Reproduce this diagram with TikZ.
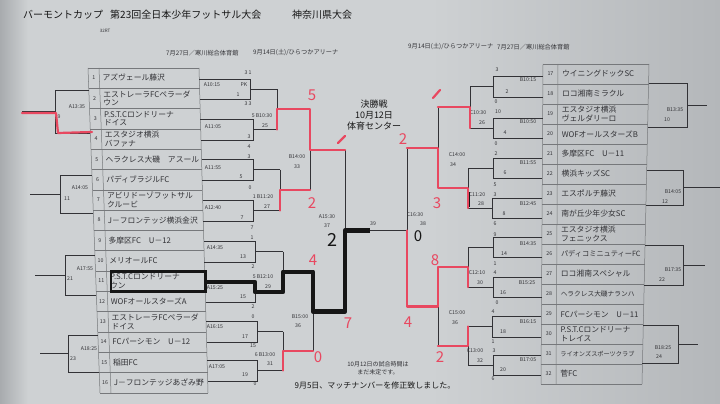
\documentclass[tikz,border=0pt]{standalone}
\usepackage{fontspec}
\newfontfamily\jp{Noto Sans CJK JP}
\definecolor{paperL}{RGB}{168,171,174}
\definecolor{paperM}{RGB}{206,209,211}
\definecolor{paperR}{RGB}{180,183,186}
\definecolor{ink}{RGB}{50,50,54}
\definecolor{grid}{RGB}{118,120,123}
\definecolor{marker}{RGB}{232,72,96}
\definecolor{blk}{RGB}{22,22,22}
\tikzset{
  team/.style={anchor=west,font=\jp\fontsize{7.8}{8.8}\selectfont,align=left,inner sep=0pt,text=ink},
  tnum/.style={font=\jp\fontsize{5.3}{6}\selectfont,inner sep=0pt,text=ink},
  lab/.style={font=\jp\fontsize{5.2}{6}\selectfont,inner sep=0pt,text=ink},
  ttl/.style={anchor=west,font=\jp\fontsize{10}{12}\selectfont,inner sep=0pt,text=blk},
  sub/.style={anchor=west,font=\jp\fontsize{6.2}{7}\selectfont,inner sep=0pt,text=ink},
  redno/.style={font=\jp\fontsize{15}{15}\selectfont,text=marker,inner sep=0pt},
  bline/.style={draw=ink,line width=0.9pt},
  tline/.style={draw=ink,line width=0.6pt},
  gline/.style={draw=grid,line width=0.5pt},
  redpath/.style={draw=marker,line width=2.2pt,line join=round,line cap=round},
  blkpath/.style={draw=blk,line width=4.5pt,line join=round},
}
% left inner box: top, bottom, right x, out x
\newcommand\LBox[4]{%
  \draw[bline] ({199+0.028*(#1-68)},#1) -- (#3,#1) -- (#3,#2) -- ({199+0.028*(#2-68)},#2);
  \draw[tline] (#3,{(#1+#2)/2}) -- (#4,{(#1+#2)/2});}
% right inner box: top, bottom, left x, out x
\newcommand\RBox[4]{%
  \draw[bline] ({543-0.00625*(#1-64)},#1) -- (#3,#1) -- (#3,#2) -- ({543-0.00625*(#2-64)},#2);
  \draw[tline] (#3,{(#1+#2)/2}) -- (#4,{(#1+#2)/2});}
% far left box
\newcommand\FLBox[4]{%
  \draw[tline] ({88+0.037*(#1-68)},#1) -- (#3,#1) -- (#3,#2) -- ({88+0.037*(#2-68)},#2);
  \draw[tline] (#3,{(#1+#2)/2}) -- (#4,{(#1+#2)/2});}
% far right box
\newcommand\FRBox[4]{%
  \draw[tline] ({649-0.022*(#1-64)},#1) -- (#3,#1) -- (#3,#2) -- ({649-0.022*(#2-64)},#2);
  \draw[tline] (#3,{(#1+#2)/2}) -- (#4,{(#1+#2)/2});}
% join: x, y1, y2, out x
\newcommand\VJ[4]{%
  \draw[tline] (#1,#2) -- (#1,#3);
  \draw[tline] (#1,{(#2+#3)/2}) -- (#4,{(#2+#3)/2});}
\begin{document}
\begin{tikzpicture}[x=1pt,y=-1pt]
\useasboundingbox (0,0) rectangle (720,404);
\fill[paperM] (0,0) rectangle (720,404);
\shade[left color=paperL,right color=paperM] (0,0) rectangle (28,404);
\shade[left color=paperM,right color=paperR] (430,0) rectangle (720,404);

% titles
\node[ttl] (t1) at (23,15) {バーモントカップ};
\node[ttl] (t2) at (110,15) {第23回全日本少年フットサル大会};
\node[ttl] (t3) at (292,15) {神奈川県大会};
\node[font=\jp\fontsize{4.5}{5}\selectfont,inner sep=0pt,text=ink] (t4) at (105,31) {32RT};
\node[sub] (t5) at (166,53) {7月27日／寒川総合体育館};
\node[sub] (t6) at (253,53) {9月14日(土)/ひらつかアリーナ};
\node[sub] (t7) at (408,47) {9月14日(土)/ひらつかアリーナ};
\node[sub] (t8) at (497,47) {7月27日／寒川総合体育館};

% left table
\foreach \j in {0,...,16} {\pgfmathsetmacro\yb{68+20.3*\j}
  \draw[gline] ({88+0.037*(\yb-68)},\yb) -- ({199+0.028*(\yb-68)},\yb);}
\draw[gline] (88,68) -- (100,392.8);
\draw[gline] (99,68) -- (111,392.8);
\draw[gline] (199,68) -- (208,392.8);
\foreach \k/\nm in {1/{アズヴェール藤沢},2/{エストレーラFCペラーダ\\ウン},3/{P.S.T.Cロンドリーナ\\ドイス},4/{エスタジオ横浜\\バファナ},5/{ヘラクレス大磯　アスール},6/{パディブラジルFC},7/{アビリドーゾフットサル\\クルービ},8/{J－フロンテッジ横浜金沢},9/{多摩区FC　U－12},10/{メリオールFC},11/{P.S.T.Cロンドリーナ\\ウン},12/{WOFオールスターズA},13/{エストレーラFCペラーダ\\ドイス},14/{FCパーシモン　U－12},15/{稲田FC},16/{J－フロンテッジあざみ野}} {
  \pgfmathsetmacro\yy{78+20.3*(\k-1)}
  \pgfmathsetmacro\xl{88+0.037*(\yy-68)}
  \node[tnum] (ln\k) at (\xl+5.5,\yy) {\k};
  \node[team] (lt\k) at (\xl+14,\yy) {\nm};
}

% right table
\foreach \j in {0,...,16} {\pgfmathsetmacro\yb{64+20*\j}
  \draw[gline] ({543-0.00625*(\yb-64)},\yb) -- ({649-0.022*(\yb-64)},\yb);}
\draw[gline] (543,64) -- (541,384);
\draw[gline] (558,64) -- (556,384);
\draw[gline] (649,64) -- (642,384);
\foreach \k/\nm in {17/{ウイニングドックSC},18/{ロコ湘南ミラクル},19/{エスタジオ横浜\\ヴェルダリーロ},20/{WOFオールスターズB},21/{多摩区FC　U－11},22/{横浜キッズSC},23/{エスポルチ藤沢},24/{南が丘少年少女SC},25/{エスタジオ横浜\\フェニックス},26/{\fontsize{7.2}{8}\selectfont パディコミニュティーFC},27/{ロコ湘南スペシャル},28/{\fontsize{6.7}{8}\selectfont ヘラクレス大磯ナランハ},29/{FCパーシモン　U－11},30/{P.S.T.Cロンドリーナ\\トレイス},31/{\fontsize{6.2}{7}\selectfont ライオンズスポーツクラブ},32/{菅FC}} {
  \pgfmathsetmacro\yy{74+20*(\k-17)}
  \pgfmathsetmacro\xl{543-0.00625*(\yy-64)}
  \node[tnum] (rn\k) at (\xl+7.5,\yy) {\k};
  \node[team] (rt\k) at (\xl+19,\yy) {\nm};
}

% left bracket
\LBox{79}{99}{250}{277}
\LBox{119}{140}{253}{277}
\VJ{277}{89}{129.5}{310}
\LBox{159}{180}{253}{280}
\LBox{200}{221}{253}{280}
\VJ{280}{169.5}{210.5}{310}
\VJ{310}{109.25}{190}{345}
\LBox{241}{262}{255}{283}
\LBox{282}{302}{255}{283}
\VJ{283}{251.5}{292}{313}
\LBox{321}{342}{257}{283}
\LBox{360}{381}{257}{283}
\VJ{283}{331.5}{370.5}{313}
\VJ{313}{271.75}{351}{345}
\draw[tline] (345,149.6) -- (345,311.4);
\draw[tline] (345,230.5) -- (407,230.5);
% right bracket
\RBox{76}{97}{493}{470}
\RBox{118}{138}{493}{470}
\VJ{470}{86.5}{128}{438}
\RBox{158}{178}{493}{468}
\RBox{198}{218}{492}{468}
\VJ{468}{168}{208}{438}
\VJ{438}{107.25}{188}{407}
\RBox{237}{257}{493}{468}
\RBox{277}{297}{493}{468}
\VJ{468}{247}{287}{438}
\RBox{316}{337}{492}{468}
\RBox{355}{375}{493}{468}
\VJ{468}{326.5}{365}{438}
\VJ{438}{267}{345.75}{407}
\draw[tline] (407,147.6) -- (407,306.4);
% outer boxes
\FLBox{90}{133}{55}{22}
\FLBox{175}{213}{60}{30}
\FLBox{255}{295}{65}{35}
\FLBox{335}{372}{68}{40}
\FRBox{83}{127}{687}{707}
\FRBox{170}{205}{683}{720}
\FRBox{245}{285}{683}{705}
\FRBox{325}{363}{678}{698}

% small labels
\foreach \x/\y/\t [count=\i] in {
 248/73/3 1, 212/85/A10:15, 244/85/PK, 238/95/1, 248/104/3 3, 262/116/5 B10:30, 265/126/25,
 213/127/A11:05, 249/137/3, 249/147/4, 249/157/3, 213/168/A11:55, 241/177/5, 250/188/0,
 263/197/1 B11:20, 267/207/27, 213/208/A12:40, 242/218/7, 252/228/7, 297/157/B14:00, 297/167/33,
 327/217/A15:30, 327/226/37, 252/238/1, 215/248/A14:35, 243/257/13, 253/267/2, 263/277/5 B12:10,
 268/287/29, 215/288/A15:25, 243/297/15, 253/307/2, 253/317/0, 215/327/A16:15, 245/337/17,
 253/346/15, 265/355/6 B13:00, 270/364/31, 217/367/A17:05, 245/375/19, 255/384/0,
 300/317/B15:00, 298/326/36,
 77/107/A13:35, 59/117/9, 80/188/A14:05, 67/199/11, 85/269/A17:55, 70/279/21, 89/349/A18:25, 73/359/23,
 373/224/39, 415/215/C16:30, 423/224/38,
 497/70/3, 528/80/B10:15, 507/92/2, 496/102/0, 478/113/C10:30, 498/112/10, 482/123/26,
 528/122/B10:50, 505/133/4, 496/144/0, 496/154/2, 528/163/B11:55, 505/173/6, 495/185/5,
 477/195/C11:20, 495/195/3, 481/204/28, 528/204/B12:45, 504/214/8, 495/224/6, 495/235/9,
 528/244/B14:35, 504/254/14, 495/264/1, 477/273/C12:10, 495/273/4, 480/283/30,
 527/283/B15:25, 503/293/16, 497/303/0, 493/312/4, 528/322/B16:15, 503/332/18, 493/342/1,
 475/351/C13:00, 494/351/3, 480/361/32, 528/360/B17:05, 503/370/20, 493/379/6,
 457/155/C14:00, 453/165/34, 457/313/C15:00, 455/323/36,
 675/110/B13:35, 667/120/10, 673/192/B14:05, 665/202/12, 673/270/B17:35, 662/280/22,
 663/348/B18:25, 659/357/24} {
  \node[lab] (lb\i) at (\x,\y) {\t};
}

% centre and notes
\node[font=\jp\fontsize{9}{11}\selectfont,align=center,inner sep=0pt,text=blk] (fin) at (374,115) {決勝戦\\10月12日\\体育センター};
\node[font=\jp\fontsize{6}{7.5}\selectfont,align=center,inner sep=0pt,text=ink] (note1) at (378,368) {10月12日の試合時間は\\まだ未定です。};
\node[font=\jp\fontsize{8}{9}\selectfont,inner sep=0pt,text=blk] (note2) at (375,385) {9月5日、マッチナンバーを修正致しました。};

% marker: black winner path
\draw[blk,line width=2.4pt] (111,271.6) rectangle (205.5,291.5);
\draw[blkpath] (205,282) -- (255,282) -- (255,292) -- (283,292) -- (283,271.75) -- (313,271.75) -- (313,311.4) -- (345,311.4) -- (345,230.5) -- (370,230.5);
\draw[blk,line width=3pt] (468,192) -- (468,207);

% marker: red paths
\draw[redpath] (22,113) -- (56,113) -- (58,133) -- (92,132);
\draw[redpath] (277,129.5) -- (277,109.25) -- (310,109.25) -- (310,149.6) -- (345,149.6);
\draw[redpath] (280,210.5) -- (280,190) -- (310,190);
\draw[redpath] (283,370.5) -- (283,351) -- (313,351);
\draw[redpath] (438,107.25) -- (470,107.25) -- (470,128);
\draw[redpath] (407,147.6) -- (438,147.6) -- (438,188) -- (468,188) -- (468,208);
\draw[redpath] (407,230.5) -- (407,306.4) -- (438,306.4) -- (438,267) -- (468,267) -- (468,287);
\draw[redpath] (438,345.75) -- (468,345.75) -- (468,326.5);
\draw[redpath] (338,143) -- (345,136);
\draw[redpath] (433,98) -- (440,90);

% handwritten scores
\node[redno] (h1) at (312,95) {5};
\node[redno] (h2) at (312,203) {2};
\node[redno] (h3) at (313,260) {4};
\node[redno] (h4) at (348,323) {7};
\node[redno] (h5) at (318,357) {0};
\node[redno] (h6) at (403,139) {2};
\node[redno] (h7) at (437,203) {3};
\node[redno] (h8) at (435,260) {8};
\node[redno] (h9) at (408,322) {4};
\node[redno] (h10) at (440,357) {2};
\node[font=\jp\fontsize{18}{18}\selectfont,inner sep=0pt,text=blk] (h11) at (332,240) {2};
\node[font=\jp\fontsize{15}{15}\selectfont\itshape,inner sep=0pt,text=blk] (h12) at (418,236) {0};
\end{tikzpicture}
\end{document}
